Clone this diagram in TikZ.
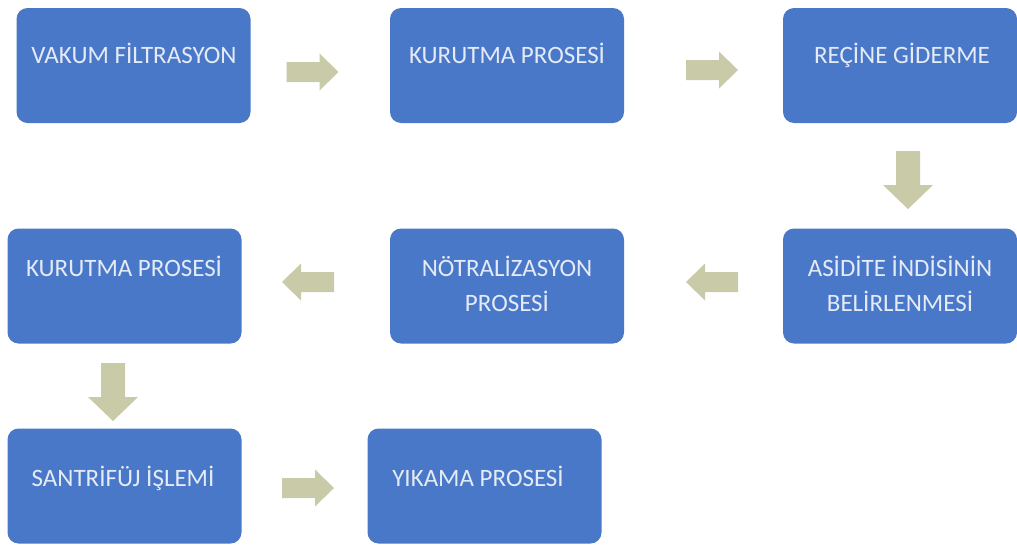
\documentclass[tikz,border=0pt]{standalone}
\usepackage{fontspec}
\setmainfont{Carlito}
\definecolor{boxblue}{HTML}{4A78C8}
\definecolor{arrowkhaki}{HTML}{C8CAA8}
\definecolor{textwhite}{HTML}{E4EBF7}
\tikzset{
  procbox/.style={draw=none, fill=boxblue, rounded corners=11pt, minimum width=234pt, minimum height=115pt, inner sep=0pt},
  proctext/.style={text=textwhite, font=\fontsize{25}{35}\selectfont, align=center, inner sep=0pt, anchor=base},
  harrow/.pic={\fill[arrowkhaki] (-26,-10) -- (7,-10) -- (7,-18.5) -- (26,0) -- (7,18.5) -- (7,10) -- (-26,10) -- cycle;},
  varrow/.pic={\fill[arrowkhaki] (-29,-12) -- (5,-12) -- (5,-25) -- (29,0) -- (5,25) -- (5,12) -- (-29,12) -- cycle;}
}
\begin{document}
\begin{tikzpicture}[x=1pt,y=-1pt]
\useasboundingbox[fill=white] (0,0) rectangle (1017,547);
% boxes
\node[procbox] (b1) at (133.5,65.5) {};
\node[procbox] (b2) at (507,65.5) {};
\node[procbox] (b3) at (900,65.5) {};
\node[procbox] (b4) at (124.5,286) {};
\node[procbox] (b5) at (507,286) {};
\node[procbox] (b6) at (900,286) {};
\node[procbox] (b7) at (124.5,486) {};
\node[procbox] (b8) at (484.5,486) {};
% texts
\node[proctext] (t1) at (134,63) {VAKUM FİLTRASYON};
\node[proctext] (t2) at (507,63) {KURUTMA PROSESİ};
\node[proctext] (t3) at (902,63) {REÇİNE GİDERME};
\node[proctext] (t4) at (124,276) {KURUTMA PROSESİ};
\node[proctext] (t5) at (507,311) {NÖTRALİZASYON\\PROSESİ};
\node[proctext] (t6) at (900,311) {ASİDİTE İNDİSİNİN\\BELİRLENMESİ};
\node[proctext] (t7) at (123,486) {SANTRİFÜJ İŞLEMİ};
\node[proctext] (t8) at (478,486) {YIKAMA PROSESİ};
% block arrows
\coordinate (a1) at (312.5,72);
\coordinate (a2) at (712,70);
\coordinate (a3) at (908,180);
\coordinate (a4) at (712,282);
\coordinate (a5) at (308,282);
\coordinate (a6) at (113,392);
\coordinate (a7) at (308,488);
\pic at (a1) {harrow};
\pic at (a2) {harrow};
\pic[rotate=-90] at (a3) {varrow};
\pic[rotate=180] at (a4) {harrow};
\pic[rotate=180] at (a5) {harrow};
\pic[rotate=-90] at (a6) {varrow};
\pic at (a7) {harrow};
\end{tikzpicture}
\end{document}
